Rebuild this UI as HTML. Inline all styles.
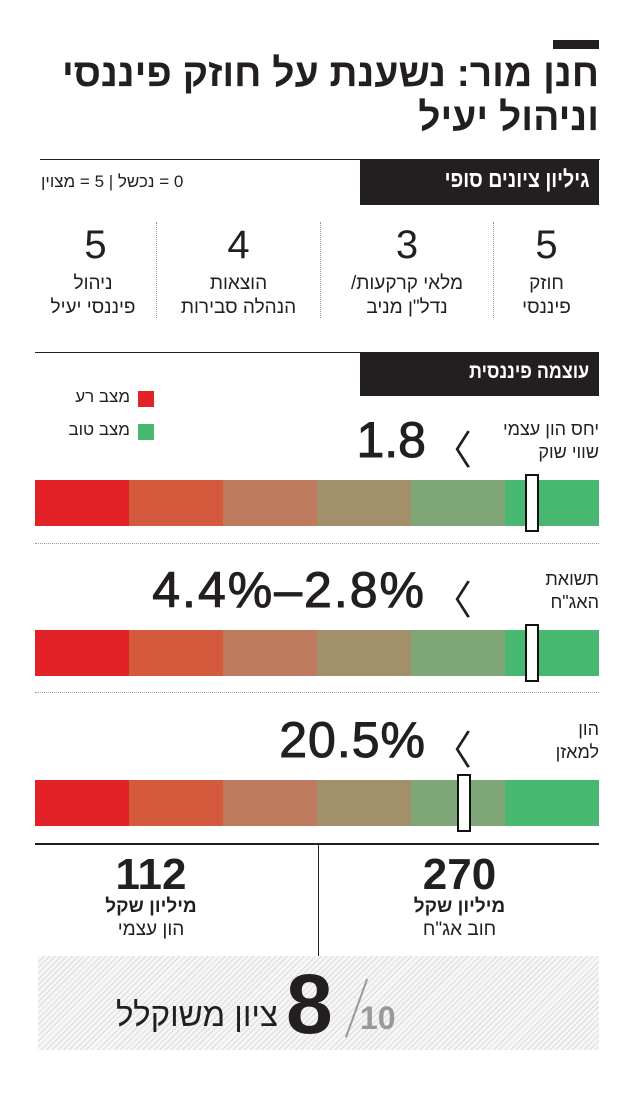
<!DOCTYPE html>
<html><head><meta charset="utf-8"><style>
*{margin:0;padding:0;box-sizing:border-box}
body{width:638px;height:1098px;background:#fff;position:relative;overflow:hidden;font-family:"Liberation Sans","Noto Sans CJK SC",sans-serif;color:#231f20}
.a{position:absolute}
.r{direction:rtl;text-align:right}
.c{text-align:center;direction:rtl}
.bar{position:absolute;left:35px;width:564px;height:46px;display:flex}
.bar div{flex:1}
.mk{position:absolute;width:14px;height:58px;background:#fff;border:2px solid #111}
.dot{position:absolute;border-top:1px dotted #999;left:35px;width:564px;height:0}
.vd{position:absolute;border-left:1px dotted #999;width:0}
.big{position:absolute;font-size:50px;line-height:52px;direction:ltr;text-align:right;-webkit-text-stroke:1px #231f20}
</style></head><body>
<div class="a" style="left:553px;top:40px;width:46px;height:9px;background:#231f20"></div>
<div class="a r" style="right:39px;top:52px;font-size:39px;font-weight:bold;line-height:44px">חנן מור: נשענת על חוזק פיננסי<br>וניהול יעיל</div>

<div class="a" style="left:40px;top:159px;width:560px;height:1px;background:#231f20"></div>
<div class="a" style="left:360px;top:159px;width:239px;height:46px;background:#231f20"></div>
<div class="a r" style="right:49px;top:166px;color:#fff;font-size:23px;font-weight:bold;transform:scaleX(0.85);transform-origin:right">גיליון ציונים סופי</div>
<div class="a" style="left:41px;top:172px;font-size:17px;direction:rtl">0 = נכשל | 5 = מצוין</div>

<div class="vd" style="left:156px;top:222px;height:96px"></div>
<div class="vd" style="left:320px;top:222px;height:96px"></div>
<div class="vd" style="left:493px;top:222px;height:96px"></div>
<div class="a c" style="left:494px;width:105px;top:222px;font-size:40px;line-height:46px">5</div>
<div class="a c" style="left:494px;width:105px;top:272px;font-size:19px;line-height:24px">חוזק<br>פיננסי</div>
<div class="a c" style="left:321px;width:172px;top:222px;font-size:40px;line-height:46px">3</div>
<div class="a c" style="left:321px;width:172px;top:272px;font-size:19px;line-height:24px">מלאי קרקעות/<br>נדל"ן מניב</div>
<div class="a c" style="left:157px;width:163px;top:222px;font-size:40px;line-height:46px">4</div>
<div class="a c" style="left:157px;width:163px;top:272px;font-size:19px;line-height:24px">הוצאות<br>הנהלה סבירות</div>
<div class="a c" style="left:35px;width:121px;top:222px;font-size:40px;line-height:46px">5</div>
<div class="a c" style="left:30px;width:126px;top:272px;font-size:19px;line-height:24px">ניהול<br>פיננסי יעיל</div>

<div class="a" style="left:35px;top:352px;width:564px;height:1px;background:#231f20"></div>
<div class="a" style="left:360px;top:352px;width:239px;height:44px;background:#231f20"></div>
<div class="a r" style="right:49px;top:360px;color:#fff;font-size:21px;font-weight:bold;transform:scaleX(0.85);transform-origin:right">עוצמה פיננסית</div>
<div class="a" style="left:138px;top:391px;width:16px;height:16px;background:#e32227"></div>
<div class="a" style="left:138px;top:424px;width:16px;height:16px;background:#48b870"></div>
<div class="a r" style="right:508px;top:387px;font-size:17px">מצב רע</div>
<div class="a r" style="right:508px;top:420px;font-size:17px">מצב טוב</div>

<div class="a r" style="right:39px;top:418px;font-size:18px;line-height:23px">יחס הון עצמי<br>שווי שוק</div>
<div class="a" style="left:432px;top:418px;font-size:40px">〈</div>
<div class="big" style="right:212px;top:414px">1.8</div>
<div class="bar" style="top:480px"><div style="background:#e32227"></div><div style="background:#d45a3e"></div><div style="background:#bf7b5d"></div><div style="background:#a2906a"></div><div style="background:#7fa676"></div><div style="background:#48b870"></div></div>
<div class="mk" style="left:525px;top:474px"></div>
<div class="dot" style="top:543px"></div>

<div class="a r" style="right:39px;top:568px;font-size:18px;line-height:23px">תשואת<br>האג"ח</div>
<div class="a" style="left:432px;top:568px;font-size:40px">〈</div>
<div class="big" style="right:212px;top:564px;letter-spacing:2px">4.4%–2.8%</div>
<div class="bar" style="top:630px"><div style="background:#e32227"></div><div style="background:#d45a3e"></div><div style="background:#bf7b5d"></div><div style="background:#a2906a"></div><div style="background:#7fa676"></div><div style="background:#48b870"></div></div>
<div class="mk" style="left:525px;top:624px"></div>
<div class="dot" style="top:692px"></div>

<div class="a r" style="right:39px;top:718px;font-size:18px;line-height:23px">הון<br>למאזן</div>
<div class="a" style="left:432px;top:718px;font-size:40px">〈</div>
<div class="big" style="right:212px;top:714px;letter-spacing:1px">20.5%</div>
<div class="bar" style="top:780px"><div style="background:#e32227"></div><div style="background:#d45a3e"></div><div style="background:#bf7b5d"></div><div style="background:#a2906a"></div><div style="background:#7fa676"></div><div style="background:#48b870"></div></div>
<div class="mk" style="left:457px;top:774px"></div>

<div class="a" style="left:35px;top:843px;width:564px;height:2px;background:#231f20"></div>
<div class="a" style="left:318px;top:845px;width:1px;height:111px;background:#231f20"></div>
<div class="a c" style="left:320px;width:279px;top:852px;font-size:44px;font-weight:bold;line-height:46px">270</div>
<div class="a c" style="left:320px;width:279px;top:896px;font-size:19px;font-weight:bold;line-height:22px">מיליון שקל</div>
<div class="a c" style="left:320px;width:279px;top:918px;font-size:19px;line-height:24px">חוב אג"ח</div>
<div class="a c" style="left:35px;width:232px;top:852px;font-size:44px;font-weight:bold;line-height:46px">112</div>
<div class="a c" style="left:35px;width:232px;top:896px;font-size:19px;font-weight:bold;line-height:22px">מיליון שקל</div>
<div class="a c" style="left:35px;width:232px;top:918px;font-size:19px;line-height:24px">הון עצמי</div>

<div class="a" style="left:38px;top:956px;width:561px;height:94px;background:repeating-linear-gradient(135deg,#dcdcdc 0 1px,#f6f6f6 1px 4px)"></div>
<div class="a r" style="right:360px;top:996px;font-size:33px;white-space:nowrap">ציון משוקלל</div>
<div class="a" style="left:286px;top:962px;font-size:84px;font-weight:bold;line-height:84px">8</div>
<div class="a" style="left:345px;top:975px;width:2px;height:62px;background:#999;transform:rotate(20deg);transform-origin:bottom left"></div>
<div class="a" style="left:360px;top:1000px;font-size:32px;font-weight:bold;color:#999">10</div>
</body></html>
